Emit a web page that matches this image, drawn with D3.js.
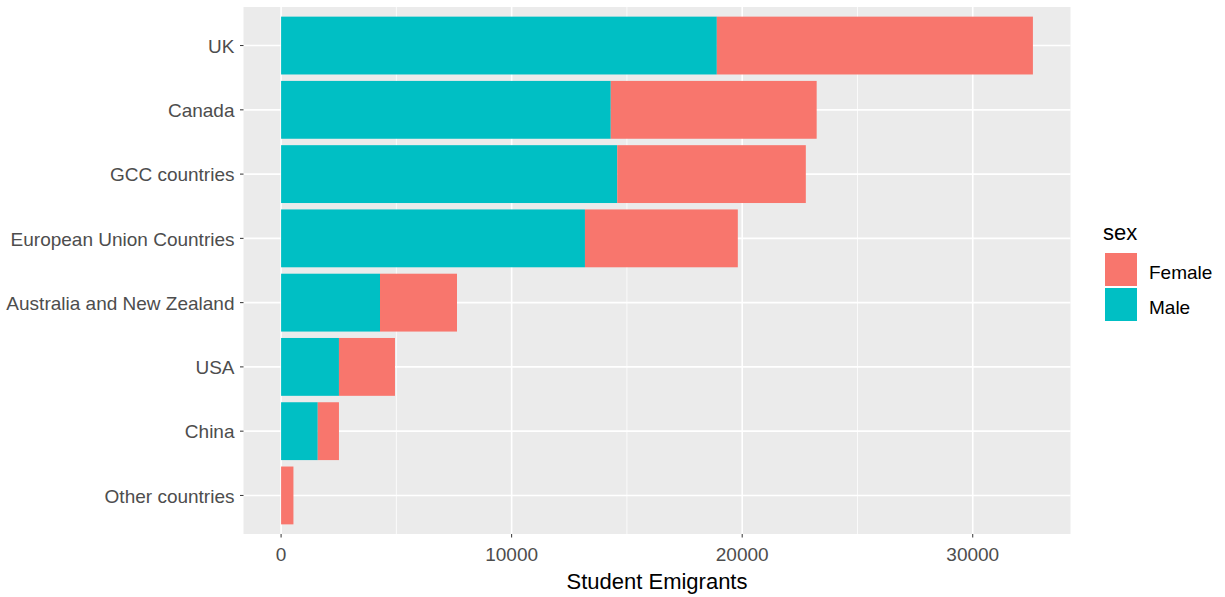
<html lang="en">
<head>
<meta charset="UTF-8" />
<title>Student Emigrants</title>
<script src="https://cdn.jsdelivr.net/npm/d3@7"></script>
<style>
  body { margin: 0; background: #fff; }
  text { font-family: "Liberation Sans", Arial, sans-serif; }
</style>
</head>
<body>
<script>
// data, top to bottom
const countries = ["UK", "Canada", "GCC countries", "European Union Countries",
  "Australia and New Zealand", "USA", "China", "Other countries"];
const male   = [18900, 14300, 14580, 13180, 4290, 2510, 1590, 0];
const female = [13710, 8930, 8180, 6630, 3340, 2430, 920, 535];
const sexes = ["Female", "Male"];
const colors = ["#F8766D", "#00BFC4"];
const xTicks = [0, 10000, 20000, 30000];
const xMinor = [5000, 15000, 25000];

const width = 1225, height = 597;
const panel = { left: 243.5, right: 1070.5, top: 7, bottom: 534 };
const tickFont = 19, titleFont = 22;

const svg = d3.select("body").append("svg")
  .attr("width", width).attr("height", height);

const maxTotal = d3.max(countries, (c, i) => male[i] + female[i]);
const pad = maxTotal * 0.05;
const x = d3.scaleLinear().domain([-pad, maxTotal + pad])
  .range([panel.left, panel.right]);

// discrete scale with 0.6 expansion
const y = d3.scaleLinear().domain([-0.6, countries.length - 1 + 0.6])
  .range([panel.top, panel.bottom]);
const barH = (y(0.45) - y(-0.45));

svg.append("rect")
  .attr("x", panel.left).attr("y", panel.top)
  .attr("width", panel.right - panel.left).attr("height", panel.bottom - panel.top)
  .attr("fill", "#EBEBEB");

const grid = svg.append("g");
grid.selectAll(".minor").data(xMinor).enter().append("line")
  .attr("x1", d => x(d)).attr("x2", d => x(d))
  .attr("y1", panel.top).attr("y2", panel.bottom)
  .attr("stroke", "#fff").attr("stroke-width", 0.8);
grid.selectAll(".major").data(xTicks).enter().append("line")
  .attr("x1", d => x(d)).attr("x2", d => x(d))
  .attr("y1", panel.top).attr("y2", panel.bottom)
  .attr("stroke", "#fff").attr("stroke-width", 1.6);
grid.selectAll(".hmajor").data(countries).enter().append("line")
  .attr("x1", panel.left).attr("x2", panel.right)
  .attr("y1", (d, i) => y(i)).attr("y2", (d, i) => y(i))
  .attr("stroke", "#fff").attr("stroke-width", 1.6);

// stacked bars: male first from 0, then female
const stackData = countries.map((c, i) => ({ country: c, i, Male: male[i], Female: female[i] }));
const series = d3.stack().keys(["Male", "Female"])(stackData);
const colorOf = d3.scaleOrdinal().domain(sexes).range(colors);

svg.append("g").selectAll("g").data(series).enter().append("g")
  .attr("fill", s => colorOf(s.key))
  .selectAll("rect").data(s => s).enter().append("rect")
  .attr("x", d => x(d[0]))
  .attr("width", d => Math.max(0, x(d[1]) - x(d[0])))
  .attr("y", d => y(d.data.i) - barH / 2)
  .attr("height", barH);

// y axis
const yAx = svg.append("g");
countries.forEach((c, i) => {
  yAx.append("line")
    .attr("x1", panel.left - 3.5).attr("x2", panel.left)
    .attr("y1", y(i)).attr("y2", y(i))
    .attr("stroke", "#333").attr("stroke-width", 1);
  yAx.append("text")
    .attr("x", panel.left - 9).attr("y", y(i))
    .attr("dy", "0.38em").attr("text-anchor", "end")
    .attr("font-size", tickFont).attr("fill", "#4D4D4D").text(c);
});

// x axis
const xAx = svg.append("g");
xTicks.forEach(t => {
  xAx.append("line")
    .attr("x1", x(t)).attr("x2", x(t))
    .attr("y1", panel.bottom).attr("y2", panel.bottom + 3.5)
    .attr("stroke", "#333").attr("stroke-width", 1);
  xAx.append("text")
    .attr("x", x(t)).attr("y", panel.bottom + 27)
    .attr("text-anchor", "middle")
    .attr("font-size", tickFont).attr("fill", "#4D4D4D").text(t);
});

svg.append("text")
  .attr("x", (panel.left + panel.right) / 2).attr("y", 589)
  .attr("text-anchor", "middle").attr("font-size", titleFont).attr("fill", "#000")
  .text("Student Emigrants");

// legend
const lg = svg.append("g").attr("transform", "translate(1103,0)");
lg.append("text").attr("x", 0).attr("y", 240)
  .attr("font-size", titleFont).attr("fill", "#000").text("sex");
sexes.forEach((s, i) => {
  lg.append("rect")
    .attr("x", 2).attr("y", 253 + i * 35)
    .attr("width", 32).attr("height", 33)
    .attr("fill", colorOf(s));
  lg.append("text")
    .attr("x", 46).attr("y", 272 + i * 35).attr("dy", "0.35em")
    .attr("font-size", tickFont).attr("fill", "#000").text(s);
});
</script>
</body>
</html>
